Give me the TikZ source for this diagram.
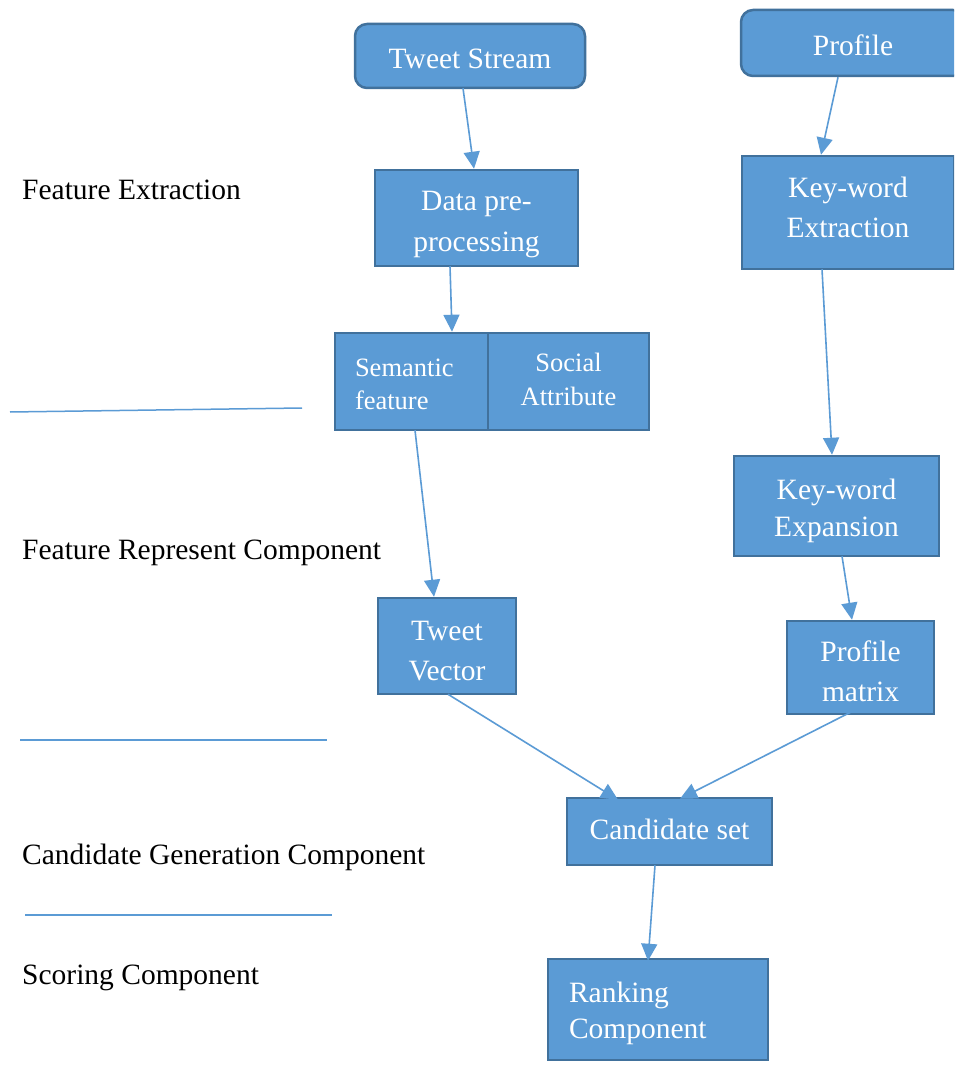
\documentclass[tikz,border=0pt]{standalone}
\usepackage{fontspec}
\setmainfont{Liberation Serif}
\usetikzlibrary{arrows.meta}
\definecolor{boxfill}{HTML}{5B9BD5}
\definecolor{boxline}{HTML}{41719C}
\definecolor{linec}{HTML}{5B9BD5}
\newcommand{\tstr}[1]{\rule{0pt}{#1}}
\newcommand{\bstr}[1]{\rule[-#1]{0pt}{#1}}
\tikzset{
  box/.style={draw=boxline, line width=2.5pt, fill=boxfill, text=white, inner sep=0pt,
    font=\fontsize{29.5}{40}\selectfont, align=center},
  rbox/.style={box, rounded corners=12pt},
  arr/.style={draw=linec, line width=1.6pt, -{Triangle[length=17pt,width=16pt]}},
  sep/.style={draw=linec, line width=1.5pt},
  lab/.style={anchor=west, inner sep=0pt, font=\fontsize{29.5}{36}\selectfont, text=black}
}
\begin{document}
\begin{tikzpicture}[x=1pt,y=-1pt]
\clip (0,0) rectangle (954,1075);
\fill[white] (0,0) rectangle (954,1075);
% boxes
\node[rbox, minimum width=230pt, minimum height=64pt] (ts) at (470,56) {\tstr{26pt}Tweet Stream};
\node[rbox, minimum width=224pt, minimum height=66pt] (pr) at (853,43) {\tstr{24.5pt}Profile};
\node[box, minimum width=203pt, minimum height=96pt, font=\fontsize{29.5}{41}\selectfont] (dp) at (476.5,218) {\tstr{32pt}Data pre-\\processing};
\node[box, minimum width=212pt, minimum height=113pt] (ke) at (848,212.5) {Key-word\\Extraction\bstr{11pt}};
\node[box, minimum width=161pt, minimum height=97pt, font=\fontsize{26.5}{34}\selectfont] (sa) at (568.5,381.5) {Social\\Attribute\bstr{4pt}};
\node[box, minimum width=153pt, minimum height=97pt, text width=113pt, align=left, font=\fontsize{26.5}{33}\selectfont] (sf) at (411.5,381.5) {\tstr{24pt}Semantic\\feature};
\node[box, minimum width=205pt, minimum height=100pt, font=\fontsize{29.5}{37}\selectfont] (kx) at (836.5,506) {\tstr{31pt}Key-word\\Expansion};
\node[box, minimum width=138pt, minimum height=96pt] (tv) at (447,646) {\tstr{30pt}Tweet\\Vector};
\node[box, minimum width=147pt, minimum height=93pt] (pm) at (860.5,667.5) {\tstr{29pt}Profile\\matrix};
\node[box, minimum width=205pt, minimum height=67pt] (cs) at (669.5,831.5) {Candidate set\bstr{4pt}};
\node[box, minimum width=220pt, minimum height=101pt, text width=178pt, align=left, font=\fontsize{29.5}{36}\selectfont] (rc) at (658,1009.5) {\tstr{28.5pt}Ranking\\Component};
% labels
\node[lab] (l1) at (22,190) {Feature Extraction};
\node[lab] (l2) at (22,553) {Feature Represent Component};
\node[lab] (l3) at (22,857) {Candidate Generation Component};
\node[lab] (l4) at (22,978) {Scoring Component};
% separators
\coordinate (s1a) at (10,412); \coordinate (s1b) at (302,408);
\coordinate (s2a) at (20,740); \coordinate (s2b) at (327,740);
\coordinate (s3a) at (25,915); \coordinate (s3b) at (332,915);
\draw[sep] (s1a) -- (s1b);
\draw[sep] (s2a) -- (s2b);
\draw[sep] (s3a) -- (s3b);
% arrows
\draw[arr] ([xshift=-7pt,yshift=1pt]ts.south) -- ([xshift=-2.5pt]dp.north);
\draw[arr] ([xshift=-15pt]pr.south) -- ([xshift=-27pt]ke.north);
\draw[arr] ([xshift=-26.5pt,yshift=1pt]dp.south) -- ([xshift=40.5pt]sf.north);
\draw[arr] ([xshift=-26pt,yshift=1pt]ke.south) -- ([xshift=-4.5pt]kx.north);
\draw[arr] ([xshift=3.5pt,yshift=1pt]sf.south) -- ([xshift=-13pt]tv.north);
\draw[arr] ([xshift=5.5pt,yshift=1pt]kx.south) -- ([xshift=-8.5pt]pm.north);
\draw[arr] ([xshift=1pt,yshift=1pt]tv.south) -- ([xshift=-51.5pt,yshift=-3pt]cs.north);
\draw[arr] ([xshift=-10pt,yshift=3pt]pm.south) -- ([xshift=10.5pt,yshift=-2pt]cs.north);
\draw[arr] ([xshift=-14.5pt,yshift=1pt]cs.south) -- ([xshift=-10pt,yshift=-3pt]rc.north);
\end{tikzpicture}
\end{document}
